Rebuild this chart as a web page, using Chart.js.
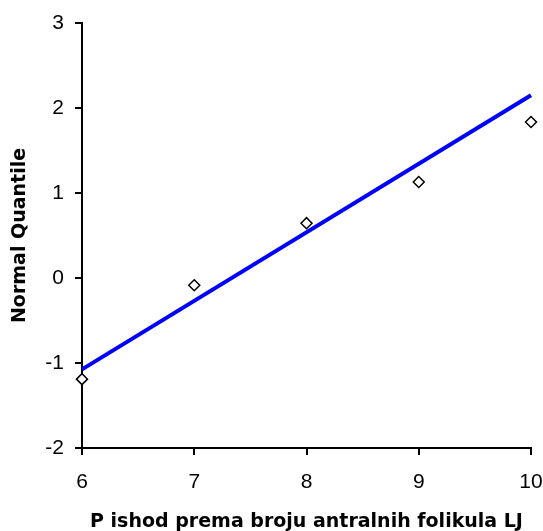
<!DOCTYPE html>
<html>
<head>
<meta charset="utf-8">
<script src="https://cdn.jsdelivr.net/npm/chart.js@4"></script>
<style>
  html, body { margin: 0; padding: 0; background: #fff; }
  canvas { display: block; }
</style>
</head>
<body>
<canvas id="qqChart" width="543" height="531"></canvas>
<script>
// vrijednosti ocitane sa slike
var xValues = [6, 7, 8, 9, 10];
var quantiles = [-1.19, -0.085, 0.645, 1.13, 1.835];
var fitX = [6, 10];
var fitY = [-1.075, 2.15];
var yTicks = [-2, -1, 0, 1, 2, 3];
var xTicks = [6, 7, 8, 9, 10];

var points = xValues.map(function(x, i) { return { x: x, y: quantiles[i] }; });
var fitLine = fitX.map(function(x, i) { return { x: x, y: fitY[i] }; });

var tickFont = { family: 'Liberation Sans', size: 21 };
var titleFont = { family: 'DejaVu Sans', size: 19, weight: 'bold', lineHeight: 0.9 };

var ctx = document.getElementById('qqChart').getContext('2d');
var chart = new Chart(ctx, {
    type: 'scatter',
    data: {
        datasets: [{
            data: points,
            pointStyle: 'rectRot',
            pointRadius: 5.5,
            pointBorderWidth: 1.5,
            pointBorderColor: '#000',
            pointBackgroundColor: '#fff',
            showLine: false,
            clip: false
        }, {
            data: fitLine,
            showLine: true,
            borderColor: '#0000ff',
            borderWidth: 4,
            pointRadius: 0,
            clip: false
        }]
    },
    options: {
        responsive: false,
        animation: false,
        events: [],
        layout: { padding: { top: 23, right: 12, bottom: 0, left: 0 } },
        plugins: { legend: { display: false }, tooltip: { enabled: false } },
        scales: {
            x: {
                type: 'linear',
                min: 6,
                max: 10,
                afterBuildTicks: function(scale) { scale.ticks = xTicks.map(function(v) { return { value: v }; }); },
                afterFit: function(scale) {
                    scale.height = 83;
                    scale.paddingLeft = 0;
                    scale.paddingRight = 0;
                },
                border: { color: '#000', width: 2 },
                grid: { drawOnChartArea: false, drawTicks: true, tickLength: 7, color: '#000', lineWidth: 2 },
                ticks: { color: '#000', font: tickFont, padding: 15, maxRotation: 0 },
                title: { display: true, text: 'P ishod prema broju antralnih folikula LJ', color: '#000', font: titleFont, padding: { top: 0, bottom: 0 } }
            },
            y: {
                type: 'linear',
                min: -2,
                max: 3,
                afterBuildTicks: function(scale) { scale.ticks = yTicks.map(function(v) { return { value: v }; }); },
                afterFit: function(scale) {
                    scale.width = 82;
                    scale.paddingTop = 0;
                    scale.paddingBottom = 0;
                },
                border: { color: '#000', width: 2 },
                grid: { drawOnChartArea: false, drawTicks: true, tickLength: 7, color: '#000', lineWidth: 2 },
                ticks: { color: '#000', font: tickFont, padding: 11 },
                title: { display: true, text: 'Normal Quantile', color: '#000', font: { family: 'DejaVu Sans', size: 19, weight: 'bold' }, padding: { top: 9, bottom: 0 } }
            }
        }
    }
});
</script>
</body>
</html>
